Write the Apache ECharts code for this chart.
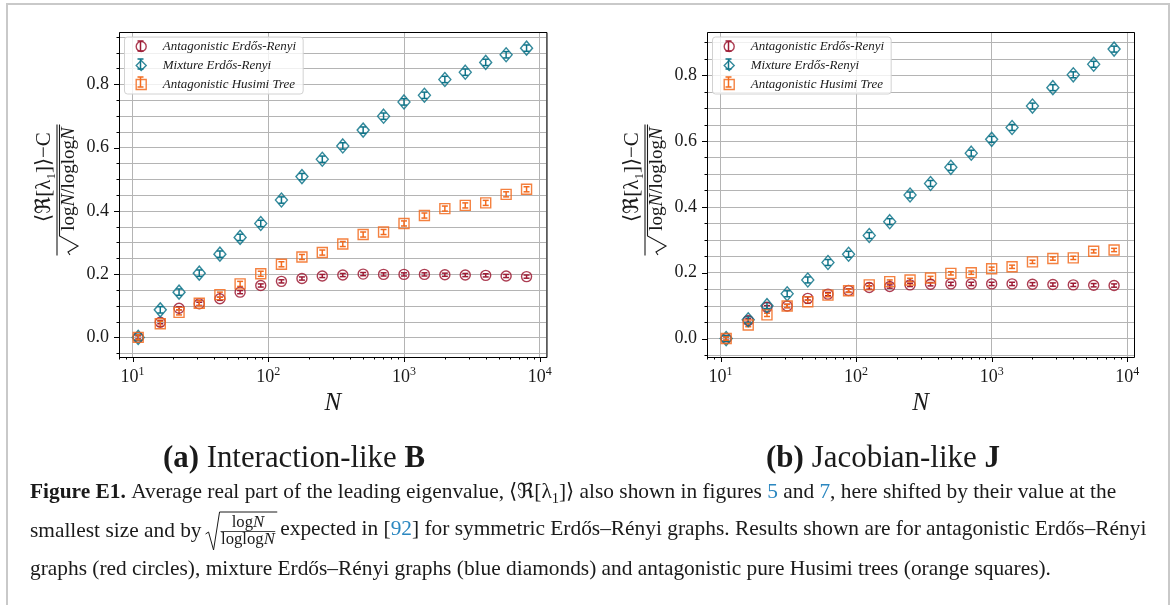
<!DOCTYPE html>
<html>
<head>
<meta charset="utf-8">
<script src="https://cdn.jsdelivr.net/npm/echarts@6/dist/echarts.min.js"></script>
<style>
  html, body { margin: 0; padding: 0; background: #fff; }
  #fig { width: 1176px; height: 605px; }
</style>
</head>
<body>
<div id="fig"></div>
<script>
// network sizes N, same for both panels
const sizes = [11, 16, 22, 31, 44, 62, 88, 125, 177, 250, 354, 500, 707, 1000, 1414, 2000, 2828, 4000, 5657, 8000];

// (a) interaction-like B
const antagonistA = [0.0, 0.048, 0.092, 0.106, 0.122, 0.143, 0.164, 0.177, 0.186, 0.194, 0.197, 0.200, 0.199, 0.199, 0.199, 0.198, 0.197, 0.196, 0.194, 0.192];
const mixtureA    = [0.0, 0.087, 0.143, 0.203, 0.263, 0.316, 0.360, 0.434, 0.508, 0.563, 0.605, 0.655, 0.699, 0.744, 0.765, 0.815, 0.838, 0.869, 0.893, 0.914];
const husimiA     = [0.0, 0.043, 0.079, 0.108, 0.135, 0.169, 0.201, 0.231, 0.254, 0.268, 0.295, 0.325, 0.333, 0.360, 0.385, 0.407, 0.417, 0.425, 0.452, 0.468];
const errA = [0.005, 0.010, 0.008];

// (b) jacobian-like J
const antagonistB = [0.0, 0.055, 0.095, 0.099, 0.122, 0.135, 0.146, 0.155, 0.158, 0.163, 0.165, 0.166, 0.166, 0.166, 0.166, 0.165, 0.164, 0.163, 0.162, 0.161];
const mixtureB    = [0.0, 0.057, 0.100, 0.136, 0.178, 0.231, 0.256, 0.313, 0.355, 0.436, 0.471, 0.520, 0.563, 0.605, 0.641, 0.706, 0.762, 0.801, 0.833, 0.879];
const husimiB     = [0.0, 0.041, 0.072, 0.099, 0.112, 0.132, 0.145, 0.163, 0.173, 0.178, 0.184, 0.198, 0.200, 0.212, 0.218, 0.233, 0.243, 0.245, 0.265, 0.269];
const errB = [0.005, 0.009, 0.005];

const seriesNames = ['Antagonistic Erdős-Renyi', 'Mixture Erdős-Renyi', 'Antagonistic Husimi Tree'];

const FONT = 'Liberation Serif';
const INK = '#1a1a1a';
const RED = '#9d1b34', TEAL = '#0f7489', ORANGE = '#f26b1f', LINK = '#2b87c0';
const GRIDLINE = '#b4b4b4';

const X_MIN = Math.pow(10, 0.9), X_MAX = Math.pow(10, 4.05);
const grids = [
  {left: 119, top: 32, width: 427.5, height: 325},
  {left: 707, top: 32, width: 427, height: 325}
];
const panels = [
  {yMin: -0.062, yMax: 0.965, values: [antagonistA, mixtureA, husimiA], err: errA},
  {yMin: -0.056, yMax: 0.931, values: [antagonistB, mixtureB, husimiB], err: errB}
];
const looks = [
  {color: RED, symbol: 'circle', size: 10},
  {color: TEAL, symbol: 'diamond', size: [12, 14]},
  {color: ORANGE, symbol: 'rect', size: 10}
];

const chart = echarts.init(document.getElementById('fig'));

// text measuring, used only to lay out the caption
const mctx = document.createElement('canvas').getContext('2d');
function tw(str, size, weight) {
  mctx.font = (weight || 'normal') + ' ' + size + 'px "' + FONT + '"';
  return mctx.measureText(str).width;
}

function errorBar(api, color) {
  const x = api.value(0), y = api.value(1), e = api.value(2);
  const lo = api.coord([x, y - e]), hi = api.coord([x, y + e]);
  const st = {stroke: color, lineWidth: 1.5};
  return {type: 'group', children: [
    {type: 'line', shape: {x1: lo[0], y1: lo[1], x2: hi[0], y2: hi[1]}, style: st},
    {type: 'line', shape: {x1: lo[0] - 3, y1: lo[1], x2: lo[0] + 3, y2: lo[1]}, style: st},
    {type: 'line', shape: {x1: hi[0] - 3, y1: hi[1], x2: hi[0] + 3, y2: hi[1]}, style: st}
  ]};
}

// ticks (major + minor) and the 0.05 minor grid, matplotlib style
function decor(i, p) {
  const items = [];
  for (let k = 0; k <= 4; k++) {
    for (let m = 1; m <= 9; m++) {
      const v = m * Math.pow(10, k);
      if (v > X_MIN && v < X_MAX) items.push([v, 0, m === 1 ? 1 : 0, 100, 0.5]);
    }
  }
  for (let q = Math.ceil(p.yMin / 0.05); q * 0.05 < p.yMax; q++) {
    items.push([q * 0.05, 1, q % 4 === 0 ? 1 : 0, 100, 0.5]);
  }
  return {
    type: 'custom', xAxisIndex: i, yAxisIndex: i, silent: true, z: 1, clip: false,
    data: items, encode: {x: 3, y: 4},
    renderItem: function (params, api) {
      const v = api.value(0), kind = api.value(1), major = api.value(2);
      const cs = params.coordSys;
      const len = major ? 5 : 2.5;
      const tick = {stroke: '#000', lineWidth: 1};
      if (kind === 0) {
        const px = Math.round(api.coord([v, p.yMin])[0]) + 0.5;
        const by = cs.y + cs.height;
        return {type: 'line', shape: {x1: px, y1: by, x2: px, y2: by + len}, style: tick};
      }
      const py = Math.round(api.coord([X_MIN, v])[1]) + 0.5;
      const kids = [{type: 'line', shape: {x1: cs.x - len, y1: py, x2: cs.x, y2: py}, style: tick}];
      if (!major) kids.push({type: 'line', shape: {x1: cs.x, y1: py, x2: cs.x + cs.width, y2: py}, style: {stroke: GRIDLINE, lineWidth: 1}});
      return {type: 'group', children: kids};
    }
  };
}

const series = [];
panels.forEach(function (p, i) {
  series.push(decor(i, p));
  p.values.forEach(function (vals, k) {
    const look = looks[k];
    const pts = sizes.map(function (n, j) { return [n, vals[j], p.err[k]]; });
    series.push({
      type: 'custom', xAxisIndex: i, yAxisIndex: i, silent: true, z: 3,
      data: pts, encode: {x: 0, y: 1},
      renderItem: function (params, api) { return errorBar(api, look.color); }
    });
    series.push({
      name: seriesNames[k], type: 'scatter', xAxisIndex: i, yAxisIndex: i, z: 4,
      symbol: look.symbol, symbolSize: look.size,
      data: pts.map(function (d) { return [d[0], d[1]]; }),
      itemStyle: {color: 'rgba(255,255,255,0)', borderColor: look.color, borderWidth: 1.4, opacity: 0.85},
      emphasis: {disabled: true}
    });
  });
});

const xAxes = grids.map(function (g, i) {
  return {
    type: 'log', logBase: 10, gridIndex: i, min: X_MIN, max: X_MAX,
    axisLine: {show: false}, axisTick: {show: false},
    axisLabel: {
      margin: 9, color: INK,
      formatter: function (v) {
        const k = Math.log10(v), r = Math.round(k);
        return Math.abs(k - r) < 1e-6 ? '{b|10}{s|' + r + '}' : '';
      },
      rich: {
        b: {fontFamily: FONT, fontSize: 18, color: INK, verticalAlign: 'bottom'},
        s: {fontFamily: FONT, fontSize: 12, color: INK, verticalAlign: 'bottom', padding: [0, 0, 8, 0]}
      }
    },
    splitLine: {show: true, lineStyle: {color: GRIDLINE, width: 1}},
    name: 'N', nameLocation: 'middle', nameGap: 30,
    nameTextStyle: {fontFamily: FONT, fontStyle: 'italic', fontSize: 25, color: INK}
  };
});

const yAxes = panels.map(function (p, i) {
  return {
    type: 'value', gridIndex: i, min: p.yMin, max: p.yMax, splitNumber: 5,
    axisLine: {show: false}, axisTick: {show: false},
    axisLabel: {
      margin: 10, fontFamily: FONT, fontSize: 18, color: INK,
      formatter: function (v) {
        const r = Math.round(v * 5);
        return Math.abs(v * 5 - r) < 1e-6 ? (r / 5).toFixed(1) : '';
      }
    },
    splitLine: {show: true, lineStyle: {color: GRIDLINE, width: 1}}
  };
});

const legends = grids.map(function (g) {
  return {
    orient: 'vertical', left: g.left + 5.5, top: 37,
    padding: [3, 7, 3, 11], itemWidth: 10, itemHeight: 10, itemGap: 6,
    backgroundColor: 'rgba(255,255,255,0.8)', borderColor: '#d2d2d2', borderWidth: 1, borderRadius: 3,
    selectedMode: false,
    formatter: '{p|}{name}',
    textStyle: {
      fontFamily: FONT, fontStyle: 'italic', fontSize: 13, lineHeight: 12, color: INK,
      rich: {p: {width: 11.5}}
    },
    data: seriesNames.map(function (n, k) {
      return {
        name: n, icon: looks[k].symbol,
        itemStyle: {color: 'rgba(255,255,255,0)', borderColor: looks[k].color, borderWidth: 1.4}
      };
    })
  };
});

// --- non-data decoration: frames, y labels, legend error bars, captions ---
const graphics = [
  {type: 'rect', z: 0, shape: {x: 7, y: 4, width: 1162, height: 640}, style: {stroke: '#c9c9c9', fill: null, lineWidth: 2}}
];

grids.forEach(function (g) {
  graphics.push({type: 'rect', z: 50, shape: {x: g.left + 0.5, y: g.top + 0.5, width: g.width, height: g.height},
    style: {stroke: '#000', fill: null, lineWidth: 1}});
  // error bars drawn through the legend markers
  looks.forEach(function (look, k) {
    const cx = g.left + 21.5, cy = 46 + 18 * k;
    const st = {stroke: look.color, lineWidth: 1.5};
    graphics.push({type: 'line', z: 60, shape: {x1: cx, y1: cy - 5, x2: cx, y2: cy + 5}, style: st});
    graphics.push({type: 'line', z: 60, shape: {x1: cx - 3, y1: cy - 5, x2: cx + 3, y2: cy - 5}, style: st});
    graphics.push({type: 'line', z: 60, shape: {x1: cx - 3, y1: cy + 5, x2: cx + 3, y2: cy + 5}, style: st});
  });
  // rotated y label: <Re[l1]> - C over sqrt(logN / loglogN)
  graphics.push({
    type: 'group', x: g.left - 62, y: 190, rotation: Math.PI / 2, z: 20,
    children: [
      {type: 'text', x: 13, y: -11, style: {
        text: '{n|⟨ℜ[λ}{s|1}{n|]⟩−C}', align: 'center', verticalAlign: 'middle',
        rich: {
          n: {fontFamily: FONT, fontSize: 21, fill: INK, verticalAlign: 'bottom', padding: [0, 0, 4, 0]},
          s: {fontFamily: FONT, fontSize: 13, fill: INK, verticalAlign: 'bottom'}
        }}},
      {type: 'line', shape: {x1: -65.5, y1: 0, x2: 65.5, y2: 0}, style: {stroke: INK, lineWidth: 1.1}},
      {type: 'polyline', shape: {points: [[-65, 13], [-62, 11], [-56, 21], [-46, 2.5], [65.5, 2.5]]},
        style: {stroke: INK, lineWidth: 1.1, fill: null}},
      {type: 'text', x: 11, y: 12, style: {
        text: '{n|log}{i|N}{n|/loglog}{i|N}', align: 'center', verticalAlign: 'middle',
        rich: {
          n: {fontFamily: FONT, fontSize: 19, fill: INK},
          i: {fontFamily: FONT, fontSize: 19, fontStyle: 'italic', fill: INK}
        }}}
    ]
  });
});

// sub-figure titles
function subTitle(x, tag, body, bold, target) {
  const w = tw(tag, 25, 'bold') + tw(' ' + body + ' ', 25) + tw(bold, 25, 'bold');
  const fs = 25 * target / w;
  graphics.push({type: 'text', x: x, y: 459, z: 20, style: {
    text: '{b|' + tag + '}{n| ' + body + ' }{b|' + bold + '}', align: 'center', verticalAlign: 'middle',
    rich: {
      b: {fontFamily: FONT, fontSize: fs, fontWeight: 'bold', fill: INK},
      n: {fontFamily: FONT, fontSize: fs, fill: INK}
    }}});
}
subTitle(294, '(a)', 'Interaction-like', 'B', 262);
subTitle(883, '(b)', 'Jacobian-like', 'J', 234);

// figure caption
const L1a = 'Figure E1.', L1b = ' Average real part of the leading eigenvalue, ⟨ℜ[λ', L1c = ']⟩ also shown in figures ',
  L1d = ' and ', L1e = ', here shifted by their value at the';
const w17 = tw(L1a, 17, 'bold') + tw(L1b + '1' + L1c + '5' + L1d + '7' + L1e, 17);
const cfs = 17 * (1123 - 30) / w17;
const capRich = {
  b: {fontFamily: FONT, fontSize: cfs, fontWeight: 'bold', fill: INK, verticalAlign: 'bottom', padding: [0, 0, 4, 0]},
  n: {fontFamily: FONT, fontSize: cfs, fill: INK, verticalAlign: 'bottom', padding: [0, 0, 4, 0]},
  l: {fontFamily: FONT, fontSize: cfs, fill: LINK, verticalAlign: 'bottom', padding: [0, 0, 4, 0]},
  s: {fontFamily: FONT, fontSize: cfs * 0.68, fill: INK, verticalAlign: 'bottom'}
};
graphics.push({type: 'text', x: 30, y: 494, z: 20, style: {
  text: '{b|' + L1a + '}{n|' + L1b + '}{s|1}{n|' + L1c + '}{l|5}{n|' + L1d + '}{l|7}{n|' + L1e + '}',
  verticalAlign: 'middle', rich: capRich}});

const L2a = 'smallest size and by';
const L2b = ' for symmetric Erdős–Rényi graphs. Results shown are for antagonistic Erdős–Rényi';
const cy2 = 531;
const x2 = 30 + tw(L2a, cfs) + 4;
const ffs = cfs * 0.78;
const fracW = Math.max(tw('logN', ffs), tw('loglogN', ffs));
const fracX = x2 + 15;
graphics.push({type: 'text', x: 30, y: cy2, z: 20, style: {text: L2a, verticalAlign: 'middle', font: cfs + 'px "' + FONT + '"', fill: INK}});
graphics.push({type: 'polyline', z: 20, shape: {points: [[x2, cy2 + 3], [x2 + 3, cy2 + 1], [x2 + 8, cy2 + 19], [x2 + 14, cy2 - 19], [fracX + fracW + 2, cy2 - 19]]},
  style: {stroke: INK, lineWidth: 1, fill: null}});
graphics.push({type: 'line', z: 20, shape: {x1: fracX, y1: cy2 + 0.5, x2: fracX + fracW, y2: cy2 + 0.5}, style: {stroke: INK, lineWidth: 0.8}});
graphics.push({type: 'text', x: fracX + fracW / 2, y: cy2 - 8, z: 20, style: {
  text: '{n|log}{i|N}', align: 'center', verticalAlign: 'middle',
  rich: {n: {fontFamily: FONT, fontSize: ffs, fill: INK}, i: {fontFamily: FONT, fontSize: ffs, fontStyle: 'italic', fill: INK}}}});
graphics.push({type: 'text', x: fracX + fracW / 2, y: cy2 + 9, z: 20, style: {
  text: '{n|loglog}{i|N}', align: 'center', verticalAlign: 'middle',
  rich: {n: {fontFamily: FONT, fontSize: ffs, fill: INK}, i: {fontFamily: FONT, fontSize: ffs, fontStyle: 'italic', fill: INK}}}});
graphics.push({type: 'text', x: fracX + fracW + 5, y: cy2, z: 20, style: {
  text: '{n|expected in [}{l|92}{n|]' + L2b + '}', verticalAlign: 'middle', rich: capRich}});

graphics.push({type: 'text', x: 30, y: 569, z: 20, style: {
  text: 'graphs (red circles), mixture Erdős–Rényi graphs (blue diamonds) and antagonistic pure Husimi trees (orange squares).',
  verticalAlign: 'middle', font: cfs + 'px "' + FONT + '"', fill: INK}});

chart.setOption({
  backgroundColor: '#fff',
  animation: false,
  grid: grids.map(function (g) { return Object.assign({outerBoundsMode: 'none'}, g); }),
  xAxis: xAxes,
  yAxis: yAxes,
  legend: legends,
  series: series,
  graphic: {elements: graphics}
});
</script>
</body>
</html>
